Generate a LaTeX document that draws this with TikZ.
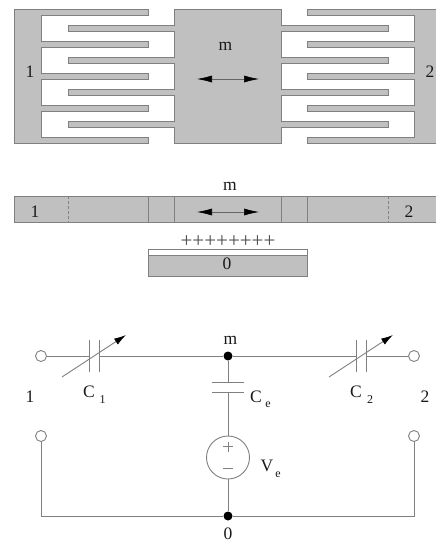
\documentclass[tikz,border=0pt]{standalone}
\usepackage{fontspec}
\setmainfont{Liberation Serif}
\usetikzlibrary{arrows.meta,positioning}
\definecolor{bodygray}{HTML}{C0C0C0}
\definecolor{edgegray}{HTML}{808080}
\tikzstyle{body} = [
  fill = bodygray, draw = edgegray, line width = 0.9pt, line join = miter
]
\tikzstyle{wire} = [draw = edgegray, line width = 0.9pt]
\tikzstyle{lbl} = [
  inner sep = 0pt, font = \fontsize{17.5}{17.5}\selectfont, text = black!90
]
\tikzstyle{sub} = [
  inner sep = 0pt, font = \fontsize{12}{12}\selectfont, text = black!90
]
\tikzstyle{term} = [
  circle, draw = edgegray, fill = white, line width = 0.9pt,
  inner sep = 0pt, minimum size = 11pt
]
\tikzstyle{dot} = [
  circle, fill = black, inner sep = 0pt, minimum size = 9pt
]
\tikzstyle{motion} = [
  {Latex[length=15pt,width=7pt,black]}-{Latex[length=15pt,width=7pt,black]},
  draw = black!60, line width = 0.6pt
]
\tikzstyle{tune} = [
  -{Latex[length=12pt,width=7pt,black]}, wire
]
\begin{document}
\begin{tikzpicture}[x=1pt, y=-1pt]
  \useasboundingbox (0,0) rectangle (436,542);

  % top view
  \draw[body] (14,9) foreach \y in {9,41,73,105} {
      -- (148,\y) -- (148,\y+6) -- (41,\y+6) -- (41,\y+32)
    } -- (148,137) -- (148,143) -- (14,143) -- cycle;
  \draw[body] (436,9) foreach \y in {9,41,73,105} {
      -- (307,\y) -- (307,\y+6) -- (414,\y+6) -- (414,\y+32)
    } -- (307,137) -- (307,143) -- (436,143);
  \draw[body] (174,9) -- (281,9) foreach \y in {25,57,89,121} {
      -- (281,\y) -- (388,\y) -- (388,\y+6) -- (281,\y+6)
    } -- (281,143) -- (174,143) foreach \y in {121,89,57,25} {
      -- (174,\y+6) -- (68,\y+6) -- (68,\y) -- (174,\y)
    } -- cycle;
  \node[lbl] (top1) at (30,72) {1};
  \node[lbl] (top2) at (430,72) {2};
  \node[lbl] (topm) at (225.5,46) {m};
  \coordinate (topl) at (197,79);
  \coordinate (topr) at (259,79);
  \draw[motion] (topl) -- (topr);

  % side view
  \draw[body] (14,196) rectangle (436,222.5);
  \foreach \x in {148,174,281,307} {
    \draw[wire] (\x,196) -- (\x,222.5);
  }
  \foreach \x in {68,388} {
    \draw[wire, densely dashed, line width = 0.6pt] (\x,196) -- (\x,222.5);
  }
  \node[lbl] (side1) at (35,212) {1};
  \node[lbl] (side2) at (409,212) {2};
  \node[lbl] (sidem) at (230,186) {m};
  \coordinate (sidel) at (197,212);
  \coordinate (sider) at (259,212);
  \draw[motion] (sidel) -- (sider);
  \draw[wire, fill = white] (148,249.5) rectangle (307,255);
  \draw[body] (148,255) rectangle (307,276);
  \node[lbl, font = \fontsize{21}{21}\selectfont, text = black!70] (plus) at (228,241.5) {++++++++};
  \node[lbl] (side0) at (227,264) {0};

  % circuit
  \node[term] (t1) at (41,356) {};
  \node[term] (t2) at (414,356) {};
  \node[term] (b1) at (41,436) {};
  \node[term] (b2) at (414,436) {};
  \node[dot] (nm) at (228,356) {};
  \node[dot] (n0) at (228,516) {};
  \coordinate (c1a) at (89,356);
  \coordinate (c1b) at (99.5,356);
  \coordinate (c2a) at (356,356);
  \coordinate (c2b) at (366.5,356);
  \coordinate (cea) at (228,382);
  \coordinate (ceb) at (228,392.5);
  \coordinate (bl) at (41,516);
  \coordinate (br) at (414,516);
  \node[circle, draw = edgegray, line width = 0.9pt, minimum size = 43pt,
    inner sep = 0pt] (ve) at (228,457.5) {};

  \draw[wire] (t1) -- (c1a);
  \draw[wire] (c1b) -- (nm);
  \draw[wire] (nm) -- (c2a);
  \draw[wire] (c2b) -- (t2);
  \draw[wire] (nm) -- (cea);
  \draw[wire] (ceb) -- (ve);
  \draw[wire] (ve) -- (n0);
  \draw[wire] (b1) -- (bl) -- (n0);
  \draw[wire] (b2) -- (br) -- (n0);

  \foreach \c in {c1a,c1b,c2a,c2b} {
    \draw[wire] ([yshift=-16pt] \c) -- ([yshift=16pt] \c);
  }
  \foreach \c in {cea,ceb} {
    \draw[wire] ([xshift=-16pt] \c) -- ([xshift=16pt] \c);
  }
  \coordinate (a1s) at (62,377);
  \coordinate (a1e) at (126,335);
  \coordinate (a2s) at (329,377);
  \coordinate (a2e) at (393,335);
  \draw[tune] (a1s) -- (a1e);
  \draw[tune] (a2s) -- (a2e);

  \draw[wire, line width = 0.6pt] (223,446.5) -- (233,446.5) (228,441.5) -- (228,451.5);
  \draw[wire, line width = 0.6pt] (223,468) -- (233,468);

  \node[lbl] (lm) at (230.5,340) {m};
  \node[lbl] (l1) at (30,397) {1};
  \node[lbl] (l2) at (425,397) {2};
  \node[lbl] (l0) at (228,533.5) {0};
  \node[lbl] (lc1) at (89,392) {C};
  \node[sub] (lc1s) at (102.5,400) {1};
  \node[lbl] (lc2) at (356,392) {C};
  \node[sub] (lc2s) at (370,400) {2};
  \node[lbl] (lce) at (256,397) {C};
  \node[sub] (lces) at (268,405) {e};
  \node[lbl] (lve) at (267,466) {V};
  \node[sub] (lves) at (278,475) {e};
\end{tikzpicture}
\end{document}
